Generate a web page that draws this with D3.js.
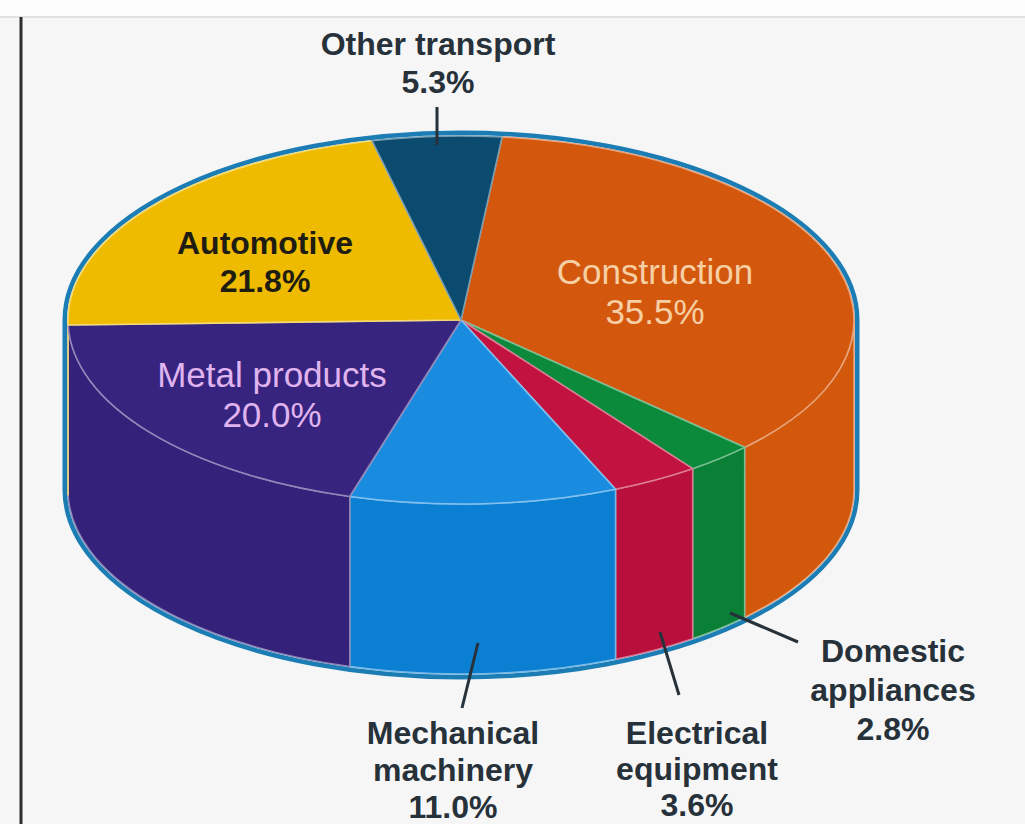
<!doctype html>
<html>
<head>
<meta charset="utf-8">
<title>Steel use by sector</title>
<script src="https://d3js.org/d3.v7.min.js"></script>
<style>
  html, body { margin: 0; padding: 0; background: #f6f6f6; }
  svg { display: block; font-family: "Liberation Sans", Arial, sans-serif; }
</style>
</head>
<body>
<script>
// ---- data ----
var categories = ["Construction", "Domestic appliances", "Electrical equipment",
                  "Mechanical machinery", "Metal products", "Automotive", "Other transport"];
var shares = [35.5, 2.8, 3.6, 11.0, 20.0, 21.8, 5.3];
var labelLines = [
  ["Construction", "35.5%"],
  ["Domestic", "appliances", "2.8%"],
  ["Electrical", "equipment", "3.6%"],
  ["Mechanical", "machinery", "11.0%"],
  ["Metal products", "20.0%"],
  ["Automotive", "21.8%"],
  ["Other transport", "5.3%"]
];
var topColors  = ["#d4570e", "#0b8a3b", "#c2123f", "#1a8ce0", "#37247f", "#eebb00", "#0a4b6f"];
var sideColors = ["#d2580c", "#0a8036", "#b90f3c", "#0b80d2", "#33217a", "#e0b000", "#0a4566"];

// ---- layout ----
var W = 1025, H = 824;
var cx = 461, cy = 320, rx = 393, ry = 184, depth = 170;
var deg = Math.PI / 180;

// label placement (x centre, first baseline, line step, colour, weight, size, leader line)
var labelPos = {
  "Construction":         {x: 655, y: 284, dy: 40, fill: "#f6cfa4", weight: "normal", size: 35},
  "Domestic appliances":  {x: 893, y: 662, dy: 39, fill: "#27313a", weight: "bold", size: 32,
                           leader: [[730, 613], [798, 642]]},
  "Electrical equipment": {x: 697, y: 744, dy: 36, fill: "#27313a", weight: "bold", size: 32,
                           leader: [[660, 632], [679, 695]]},
  "Mechanical machinery": {x: 453, y: 744, dy: 37, fill: "#27313a", weight: "bold", size: 32,
                           leader: [[478, 643], [462, 708]]},
  "Metal products":       {x: 272, y: 387, dy: 40, fill: "#e0b4ef", weight: "normal", size: 35},
  "Automotive":           {x: 265, y: 254, dy: 38, fill: "#1f1c12", weight: "bold", size: 32},
  "Other transport":      {x: 438, y: 55, dy: 38, fill: "#27313a", weight: "bold", size: 32,
                           leader: [[437, 107], [437, 145]]}
};

function pt(a, z) {
  return [cx + rx * Math.sin(a), cy - ry * Math.cos(a) + (z || 0)];
}

var svg = d3.select("body").append("svg")
  .attr("width", W).attr("height", H);

// page frame bits
svg.append("rect").attr("x", 0).attr("y", 0).attr("width", W).attr("height", 17).attr("fill", "#fdfdfd");
svg.append("line").attr("x1", 0).attr("x2", W).attr("y1", 17).attr("y2", 17)
  .attr("stroke", "#e2e2e2").attr("stroke-width", 2);
svg.append("line").attr("x1", 21).attr("x2", 21).attr("y1", 17).attr("y2", H)
  .attr("stroke", "#2e2e2e").attr("stroke-width", 3);

var pie = d3.pie().sort(null).value(function(d) { return d; })
  .startAngle(6 * deg).endAngle(6 * deg + 2 * Math.PI);
var arcs = pie(shares);

// silhouette with blue outline
var L = pt(-90 * deg), R = pt(90 * deg);
var sil = "M" + L + " A" + rx + " " + ry + " 0 0 1 " + R +
          " L" + pt(90 * deg, depth) +
          " A" + rx + " " + ry + " 0 0 1 " + pt(270 * deg, depth) + " Z";
svg.append("path").attr("d", sil)
  .attr("fill", "#1c7cb4").attr("stroke", "#1c7cb4").attr("stroke-width", 11)
  .attr("stroke-linejoin", "round");
svg.append("path").attr("d", sil)
  .attr("fill", "none").attr("stroke", "#bfe6f5").attr("stroke-width", 2);

function light(c) { return d3.interpolateRgb(c, "#ffffff")(0.45); }

// side walls (front half only)
var sides = svg.append("g");
arcs.forEach(function(a, i) {
  var b0 = Math.max(a.startAngle, 90 * deg), b1 = Math.min(a.endAngle, 270 * deg);
  if (b1 <= b0) return;
  var d = "M" + pt(b0) + " A" + rx + " " + ry + " 0 0 1 " + pt(b1) +
          " L" + pt(b1, depth) + " A" + rx + " " + ry + " 0 0 0 " + pt(b0, depth) + " Z";
  sides.append("path").attr("d", d)
    .attr("fill", sideColors[i])
    .attr("stroke", light(sideColors[i])).attr("stroke-width", 1.5)
    .attr("stroke-linejoin", "round");
});

// top faces
var tops = svg.append("g");
arcs.forEach(function(a, i) {
  var big = (a.endAngle - a.startAngle) > Math.PI ? 1 : 0;
  var d = "M" + [cx, cy] + " L" + pt(a.startAngle) +
          " A" + rx + " " + ry + " 0 " + big + " 1 " + pt(a.endAngle) + " Z";
  tops.append("path").attr("d", d)
    .attr("fill", topColors[i])
    .attr("stroke", light(topColors[i])).attr("stroke-width", 1.6)
    .attr("stroke-linejoin", "round");
});

// leader lines
categories.forEach(function(c) {
  var p = labelPos[c];
  if (!p.leader) return;
  svg.append("line")
    .attr("x1", p.leader[0][0]).attr("y1", p.leader[0][1])
    .attr("x2", p.leader[1][0]).attr("y2", p.leader[1][1])
    .attr("stroke", "#27313a").attr("stroke-width", 3);
});

// labels
categories.forEach(function(c, i) {
  var p = labelPos[c];
  var t = svg.append("text")
    .attr("text-anchor", "middle")
    .attr("fill", p.fill)
    .attr("font-weight", p.weight)
    .attr("font-size", p.size);
  labelLines[i].forEach(function(s, k) {
    t.append("tspan").attr("x", p.x).attr("y", p.y + k * p.dy).text(s);
  });
});
</script>
</body>
</html>
